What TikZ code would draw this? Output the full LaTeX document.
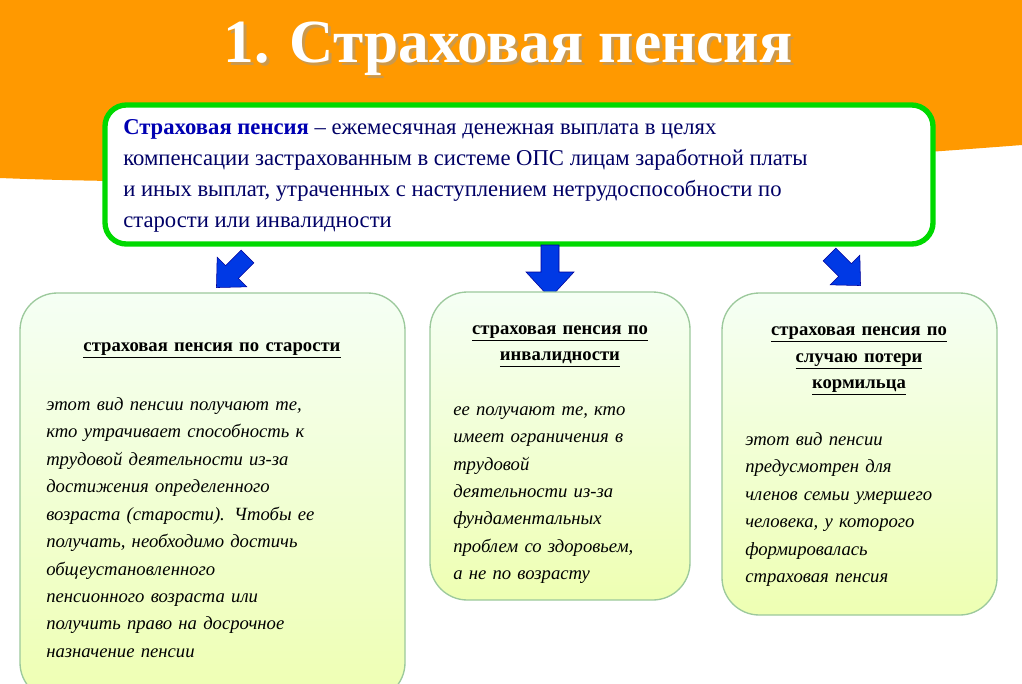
\documentclass[tikz,border=0pt]{standalone}
\usepackage{fontspec}
\setmainfont{Liberation Serif}
\newcommand{\jl}[1]{\makebox[\linewidth][s]{#1}\\}
\begin{document}
\begin{tikzpicture}[x=0.75pt,y=-0.75pt,
  card/.style={draw=green!30!gray!60, line width=1pt, rounded corners=28pt, top color=green!4, bottom color=green!22!yellow!30},
  head/.style={font=\bfseries\fontsize{14}{20}\selectfont, align=center, text width=#1},
  body/.style={font=\itshape\fontsize{14}{20.6}\selectfont, align=left, text width=#1, anchor=north west},
  barrow/.style={fill=blue!75!cyan!90!black, draw=blue!60!black, line width=0.4pt}]
\useasboundingbox (0,0) rectangle (1022,683);
\fill[white] (0,0) rectangle (1022,683);
\fill[orange!80!yellow] (0,0) -- (1022,0) -- (1022,145) .. controls (700,170) and (300,190) .. (0,178) -- cycle;
\node[font=\bfseries\fontsize{46}{50}\selectfont, text=black!40, opacity=0.5] at (511,52) {1. Страховая пенсия};
\node[font=\bfseries\fontsize{46}{50}\selectfont, text=white] (title) at (508,49) {1. Страховая пенсия};
\draw[draw=green!85!black, line width=4pt, fill=white, rounded corners=16pt] (105,105) rectangle (933,244);
\node[anchor=north west, align=left, font=\fontsize{17}{23.3}\selectfont, text=blue!40!black, inner sep=0] (def) at (123,119)
 {\textbf{\color{blue!70!black}Страховая пенсия} – ежемесячная денежная выплата в целях\\ компенсации застрахованным в системе ОПС лицам заработной платы\\ и иных выплат, утраченных с наступлением нетрудоспособности по\\ старости или инвалидности};
% arrows
\begin{scope}[shift={(232,272)}, rotate=-45]
\draw[barrow] (-9,-22) -- (9,-22) -- (9,0) -- (21,0) -- (0,22) -- (-21,0) -- (-9,0) -- cycle;
\end{scope}
\draw[barrow] (541,245) -- (559,245) -- (559,272) -- (574,272) -- (550,298) -- (526,272) -- (541,272) -- cycle;
\begin{scope}[shift={(845,270)}, rotate=45]
\draw[barrow] (-9,-22) -- (9,-22) -- (9,0) -- (21,0) -- (0,22) -- (-21,0) -- (-9,0) -- cycle;
\end{scope}
% cards
\draw[card] (20,293) rectangle (405,700);
\draw[card] (430,292) rectangle (690,600);
\draw[card] (722,293) rectangle (997,615);
\node[head=340pt] (h1) at (212,350) {\underline{страховая пенсия по старости}};
\node[head=220pt] (h2) at (560,346) {\underline{страховая пенсия по}\\\underline{инвалидности}};
\node[head=230pt] (h3) at (859,361) {\underline{страховая пенсия по}\\\underline{случаю потери}\\\underline{кормильца}};
\node[body=250pt, inner sep=0] (b1) at (46,397) {\jl{этот вид пенсии получают те,}\jl{кто утрачивает способность к}\jl{трудовой деятельности из-за}\jl{достижения определенного}\jl{возраста (старости). Чтобы ее}\jl{получать, необходимо достичь}общеустановленного\\\jl{пенсионного возраста или}\jl{получить право на досрочное}назначение пенсии};
\node[body=168pt, inner sep=0] (b2) at (453,406) {\jl{ее получают те, кто}\jl{имеет ограничения в}трудовой\\\jl{деятельности из-за}фундаментальных\\\jl{проблем со здоровьем,}а не по возрасту};
\node[body=171pt, inner sep=0] (b3) at (745,432) {\jl{этот вид пенсии}предусмотрен для\\\jl{членов семьи умершего}человека, у которого\\формировалась\\страховая пенсия};
\end{tikzpicture}
\end{document}
